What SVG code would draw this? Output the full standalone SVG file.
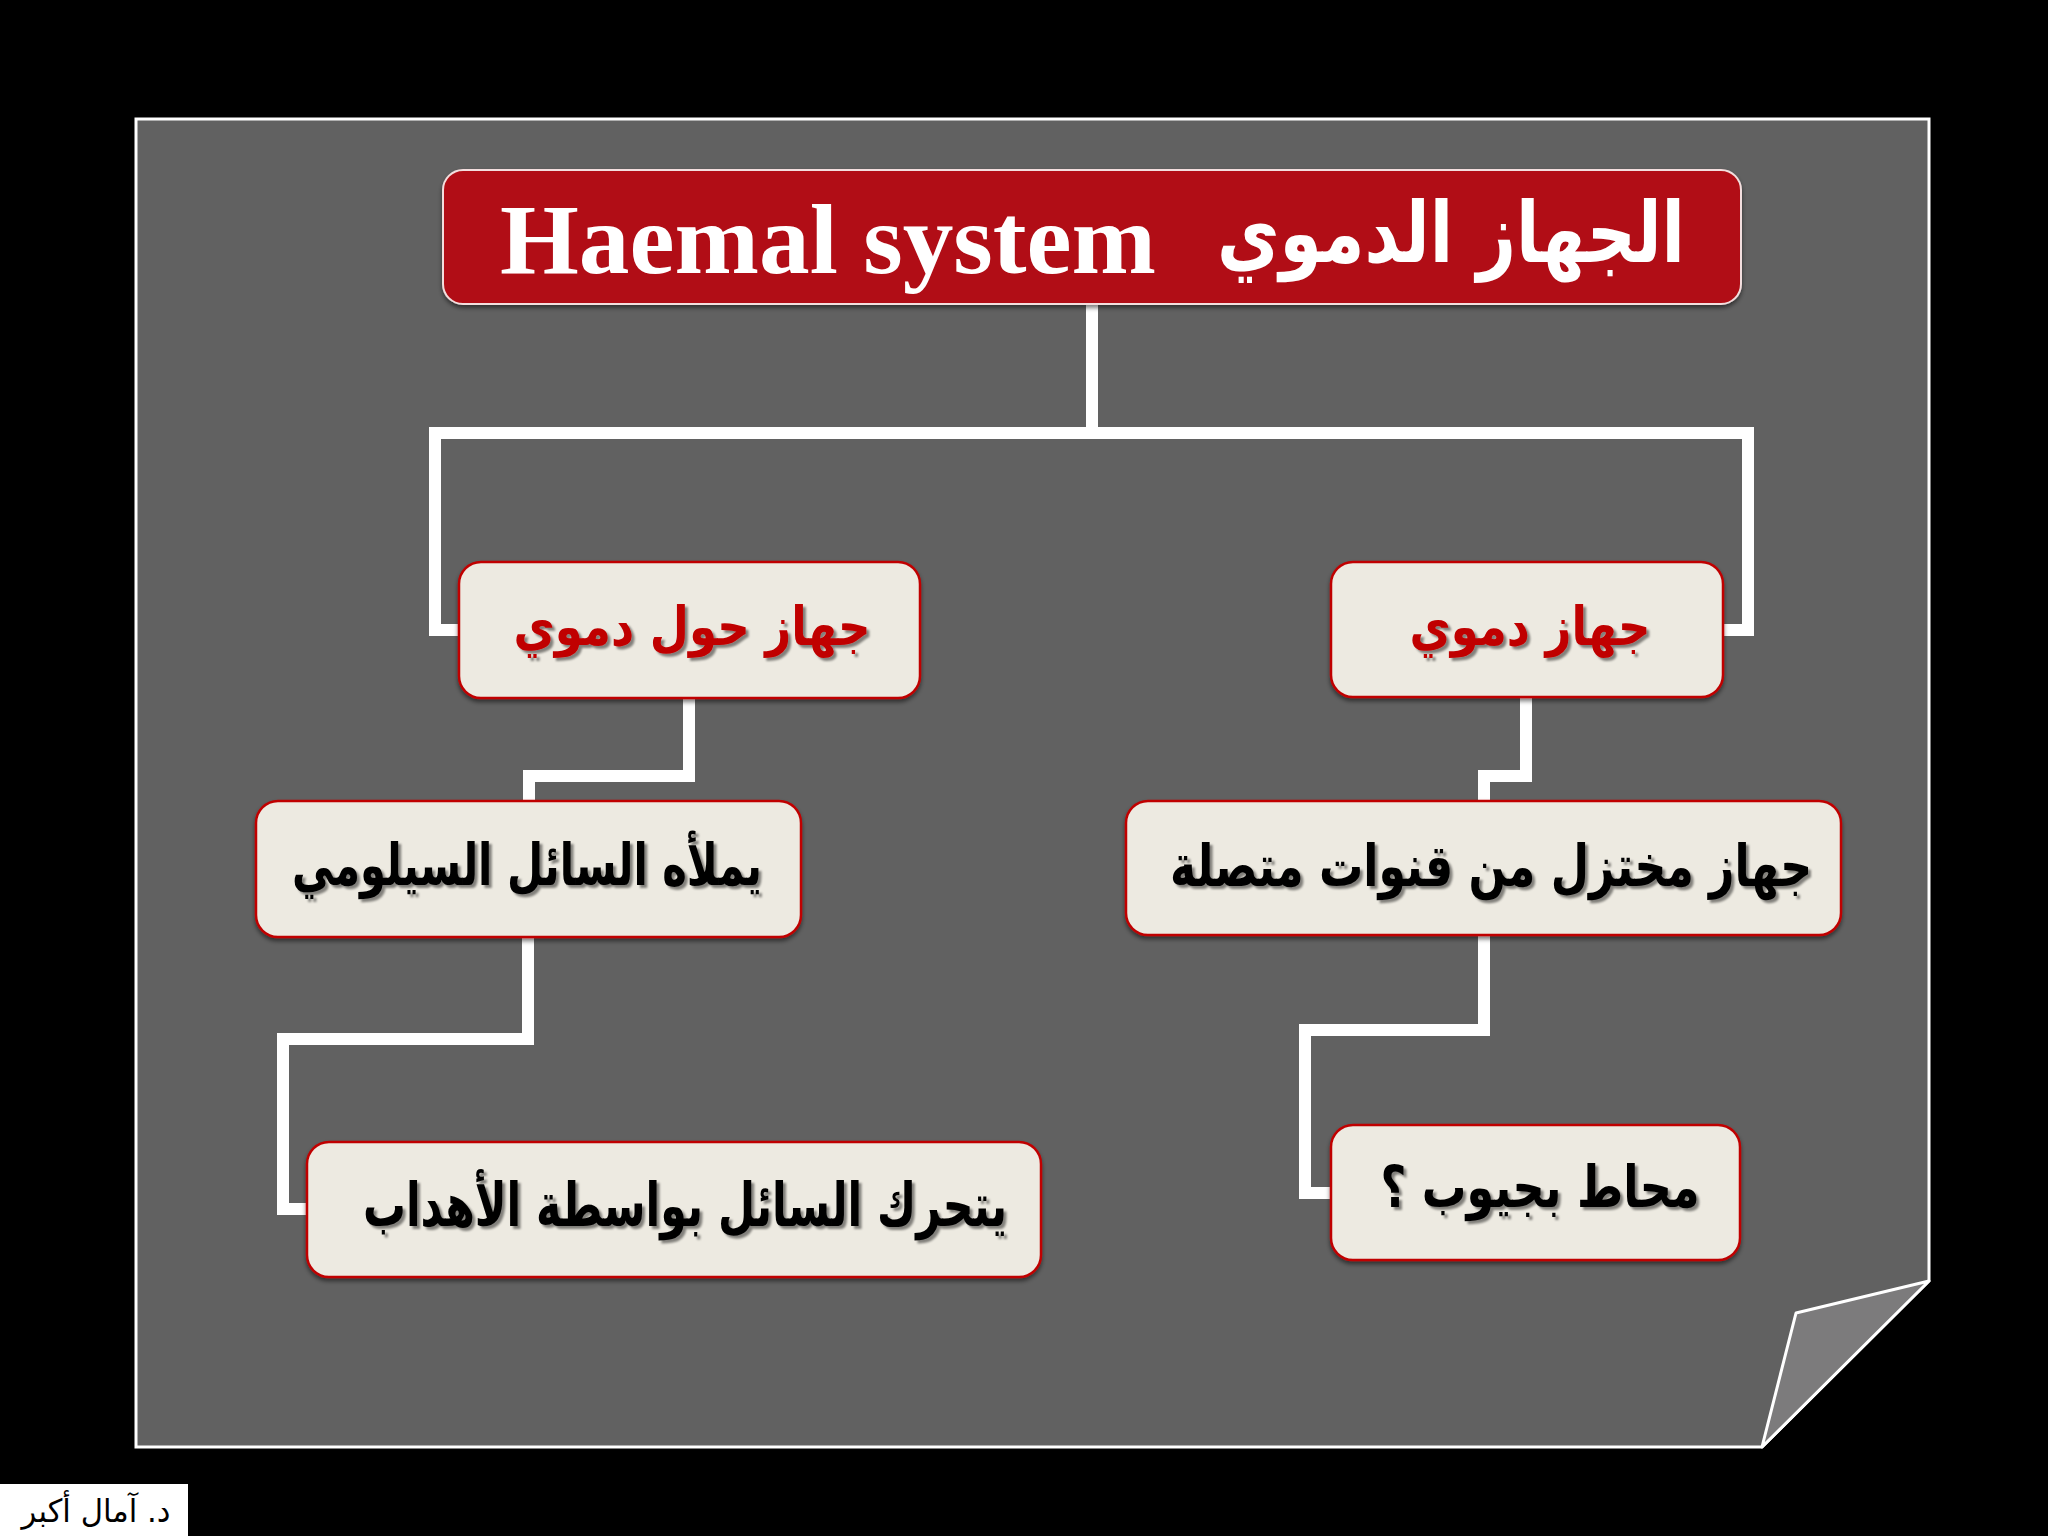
<svg xmlns="http://www.w3.org/2000/svg" width="2048" height="1536" viewBox="0 0 2048 1536">
  <defs>
    <filter id="sh" x="-5%" y="-20%" width="110%" height="140%">
      <feDropShadow dx="3" dy="3" stdDeviation="1.2" flood-color="#000" flood-opacity="0.45"/>
    </filter>
    <filter id="bsh" x="-5%" y="-10%" width="110%" height="125%">
      <feDropShadow dx="0" dy="3" stdDeviation="2" flood-color="#000" flood-opacity="0.5"/>
    </filter>
  </defs>
  <style>
    .box { fill: #edeae1; stroke: #c00000; stroke-width: 2.5; }
    .ar { font-family: "DejaVu Sans", sans-serif; font-weight: bold; text-anchor: middle; }
    .red { fill: #c00000; }
    .blk { fill: #000; }
    .conn { fill: none; stroke: #ffffff; stroke-width: 12; stroke-linejoin: miter; stroke-linecap: butt; }
  </style>
  <rect x="0" y="0" width="2048" height="1536" fill="#000"/>

  <g id="panel">
    <polygon points="136,119 1929,119 1929,1281 1762,1447 136,1447" fill="#616161" stroke="#ffffff" stroke-width="3"/>
    <polygon points="1929,1281 1796,1313 1762,1447" fill="#7c7b7c" stroke="#ffffff" stroke-width="3" stroke-linejoin="round"/>
  </g>

  <g id="connectors">
    <path class="conn" d="M1092 304 V433 H435 V630 H459"/>
    <path class="conn" d="M1092 304 V433 H1748 V630 H1723"/>
    <path class="conn" d="M689 697 V776 H529 V801"/>
    <path class="conn" d="M1526 697 V776 H1484 V801"/>
    <path class="conn" d="M528 937 V1039 H283 V1209 H307"/>
    <path class="conn" d="M1484 935 V1030 H1305 V1193 H1331"/>
  </g>

  <g id="title">
    <rect x="443" y="170" width="1298" height="134" rx="20" fill="#b11116" stroke="#f3dede" stroke-width="2" filter="url(#bsh)"/>
    <text x="500" y="273" font-family="'Liberation Serif', serif" font-weight="bold" font-size="100" fill="#fff" textLength="656" lengthAdjust="spacingAndGlyphs">Haemal system</text>
    <text class="ar" x="1451" y="262" font-size="84" fill="#fff" textLength="468" lengthAdjust="spacingAndGlyphs">الجهاز الدموي</text>
  </g>

  <g id="node-perihaemal">
    <rect class="box" x="459" y="562" width="461" height="136" rx="22" filter="url(#bsh)"/>
    <text class="ar red" x="692" y="645" font-size="54" textLength="357" lengthAdjust="spacingAndGlyphs" filter="url(#sh)">جهاز حول دموي</text>
  </g>

  <g id="node-haemal">
    <rect class="box" x="1331" y="562" width="392" height="135" rx="22" filter="url(#bsh)"/>
    <text class="ar red" x="1530" y="645" font-size="54" textLength="241" lengthAdjust="spacingAndGlyphs" filter="url(#sh)">جهاز دموي</text>
  </g>

  <g id="node-coelomic">
    <rect class="box" x="256" y="801" width="545" height="136" rx="22" filter="url(#bsh)"/>
    <text class="ar blk" x="527" y="885" font-size="58" textLength="470" lengthAdjust="spacingAndGlyphs" filter="url(#sh)">يملأه السائل السيلومي</text>
  </g>

  <g id="node-channels">
    <rect class="box" x="1126" y="801" width="715" height="134" rx="22" filter="url(#bsh)"/>
    <text class="ar blk" x="1491" y="886" font-size="58" textLength="642" lengthAdjust="spacingAndGlyphs" filter="url(#sh)">جهاز مختزل من قنوات متصلة</text>
  </g>

  <g id="node-cilia">
    <rect class="box" x="307" y="1142" width="734" height="135" rx="22" filter="url(#bsh)"/>
    <text class="ar blk" x="685" y="1226" font-size="60" textLength="644" lengthAdjust="spacingAndGlyphs" filter="url(#sh)">يتحرك السائل بواسطة الأهداب</text>
  </g>

  <g id="node-sinuses">
    <rect class="box" x="1331" y="1125" width="409" height="135" rx="22" filter="url(#bsh)"/>
    <text class="ar blk" x="1540" y="1207" font-size="58" textLength="319" lengthAdjust="spacingAndGlyphs" filter="url(#sh)">محاط بجيوب ؟</text>
  </g>

  <g id="footer">
    <rect x="0" y="1484" width="188" height="52" fill="#ffffff"/>
    <text x="96" y="1522" font-family="'DejaVu Sans', sans-serif" font-size="32" text-anchor="middle" fill="#000" textLength="149" lengthAdjust="spacingAndGlyphs">د. آمال أكبر</text>
  </g>
</svg>
